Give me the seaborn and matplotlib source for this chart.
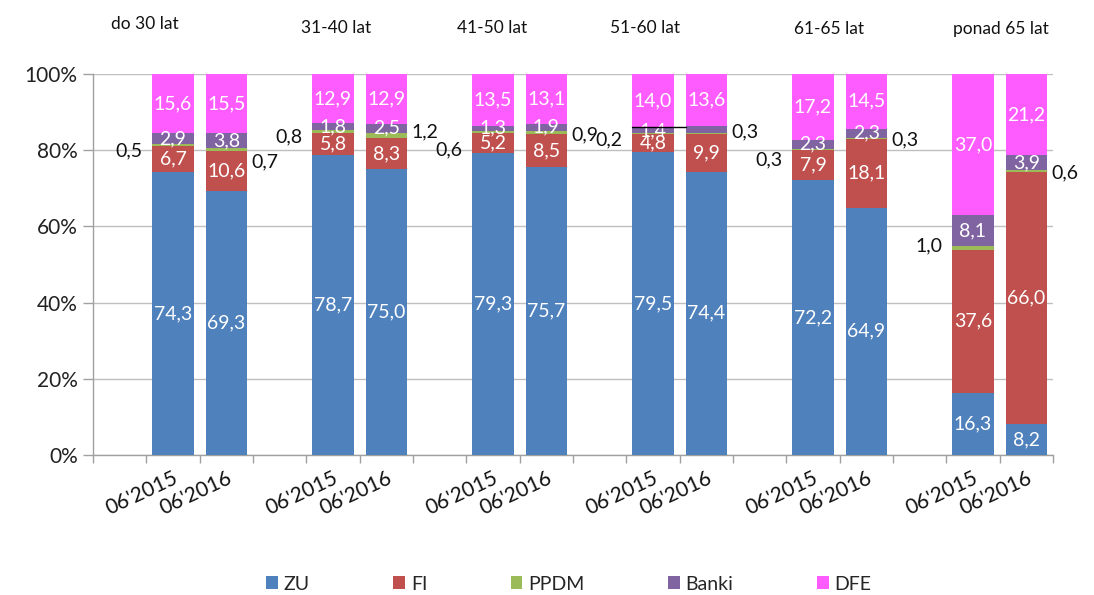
import numpy as np
import pandas as pd
import matplotlib
matplotlib.use("Agg")
import matplotlib.pyplot as plt
from matplotlib.patches import Patch
import seaborn as sns

# ---- data ----
groups = ["do 30 lat", "31-40 lat", "41-50 lat", "51-60 lat", "61-65 lat", "ponad 65 lat"]
periods = ["06'2015", "06'2016"]
series = ["ZU", "FI", "PPDM", "Banki", "DFE"]
# order of bars: g1-2015, g1-2016, g2-2015, ...
ZU = [74.3, 69.3, 78.7, 75.0, 79.3, 75.7, 79.5, 74.4, 72.2, 64.9, 16.3, 8.2]
FI = [6.7, 10.6, 5.8, 8.3, 5.2, 8.5, 4.8, 9.9, 7.9, 18.1, 37.6, 66.0]
PPDM = [0.5, 0.7, 0.8, 1.2, 0.6, 0.9, 0.2, 0.3, 0.3, 0.3, 1.0, 0.6]
Banki = [2.9, 3.8, 1.8, 2.5, 1.3, 1.9, 1.4, 1.8, 2.3, 2.3, 8.1, 3.9]
DFE = [15.6, 15.5, 12.9, 12.9, 13.5, 13.1, 14.0, 13.6, 17.2, 14.5, 37.0, 21.2]
banki_label_hidden = [False, False, False, False, False, False, False, True, False, False, False, False]

# label layout tweaks (vertical nudges of the outside PPDM labels, in % units)
ppdm_label_dy = [-1.3, -3.2, -1.4, 0.9, -4.8, -0.6, -1.7, 0.4, -2.9, -0.5, 0.6, -0.5]
group_title_x = [0.47, 4.06, 6.98, 9.85, 13.3, 16.53]
group_title_y = [113.0, 112.0, 112.0, 112.0, 111.8, 111.8]

colors = {"ZU": "#4F81BD", "FI": "#C0504D", "PPDM": "#9BBB59", "Banki": "#8064A2", "DFE": "#FF5CFF"}

sns.set_theme(style="white")
plt.rcParams["font.family"] = ["Lato", "DejaVu Sans"]

# positions: each group has 3 slots (blank, 2015, 2016)
pos = []
for g in range(len(groups)):
    pos += [3 * g + 1, 3 * g + 2]
pos = np.array(pos, dtype=float)

vals = {"ZU": np.array(ZU), "FI": np.array(FI), "PPDM": np.array(PPDM),
        "Banki": np.array(Banki), "DFE": np.array(DFE)}
cum = {}
bottoms = {}
running = np.zeros(len(pos))
for s in series:
    bottoms[s] = running.copy()
    running = running + vals[s]
    cum[s] = running.copy()

fig = plt.figure(figsize=(10.94, 5.95), dpi=100)
ax = fig.add_axes([93 / 1094, 1 - 455 / 595, 960 / 1094, 381 / 595])

W = 0.77
for s in reversed(series):
    df = pd.DataFrame({"x": pos, "y": cum[s]})
    sns.barplot(data=df, x="x", y="y", native_scale=True, width=W, color=colors[s],
                errorbar=None, linewidth=0, saturation=1, ax=ax, zorder=3)

ax.set_xlim(-0.5, 17.5)
ax.set_ylim(0, 100)
ax.set_xlabel("")
ax.set_ylabel("")

# y axis
ax.set_yticks([0, 20, 40, 60, 80, 100])
ax.set_yticklabels(["0%", "20%", "40%", "60%", "80%", "100%"], fontsize=15, color="#222222")
ax.yaxis.grid(True, color="#BFBFBF", linewidth=1, zorder=0)
ax.tick_params(axis="y", length=7, color="#A0A0A0", width=1, direction="out", left=True, pad=4)

# x axis
ax.set_xticks(pos)
ax.set_xticklabels(periods * len(groups), rotation=25, ha="right", rotation_mode="anchor",
                   fontsize=15, color="#111111")
ax.tick_params(axis="x", length=0, pad=9)
ax.set_xticks(np.arange(-0.5, 18.0, 1.0), minor=True)
ax.tick_params(axis="x", which="minor", length=6, color="#A0A0A0", width=1, direction="out", bottom=True)

for sp in ["top", "right"]:
    ax.spines[sp].set_visible(False)
for sp in ["left", "bottom"]:
    ax.spines[sp].set_color("#A0A0A0")
    ax.spines[sp].set_linewidth(1)


def fmt(v):
    return f"{v:.1f}".replace(".", ",")


# inside labels
for s in ["ZU", "FI", "Banki", "DFE"]:
    for i, x in enumerate(pos):
        if s == "Banki" and banki_label_hidden[i]:
            continue
        y = bottoms[s][i] + vals[s][i] / 2
        ax.text(x, y, fmt(vals[s][i]), ha="center", va="center", color="white",
                fontsize=14, zorder=5)

# PPDM labels outside the bars
for i, x in enumerate(pos):
    y = bottoms["PPDM"][i] + vals["PPDM"][i] / 2 + ppdm_label_dy[i]
    tx = x - 0.82 if i % 2 == 0 else x + 0.72
    ax.text(tx, y, fmt(vals["PPDM"][i]), ha="center", va="center", color="#111111",
            fontsize=14, zorder=5, clip_on=False)

# leader line in 51-60 group
ax.plot([pos[6] - W / 2, pos[7] - W / 2], [cum["Banki"][6] + 0.2, cum["Banki"][6] + 0.2],
        color="black", linewidth=1, zorder=6)

# group titles
for gx, gy, g in zip(group_title_x, group_title_y, groups):
    ax.text(gx, gy, g, ha="center", va="center", fontsize=12.5, color="#111111", clip_on=False)

# legend
handles = [Patch(facecolor=colors[s], edgecolor="none", label=s) for s in series]
fig.legend(handles=handles, loc="center", bbox_to_anchor=(0.5 + 0.02, 1 - 584 / 595), ncol=5,
           frameon=False, fontsize=14, handlelength=0.6, handleheight=0.6, handletextpad=0.3,
           columnspacing=4.3)

fig.savefig("out.png", dpi=100)
